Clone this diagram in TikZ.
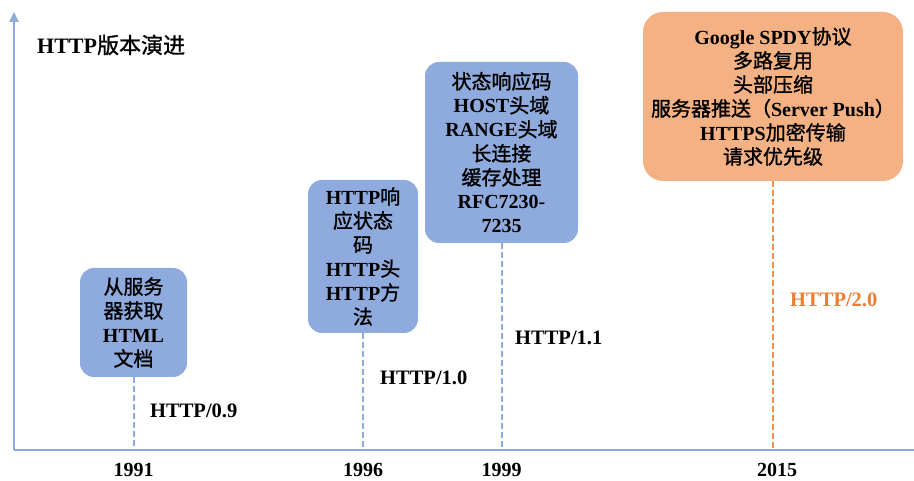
\documentclass[tikz,border=0pt]{standalone}
\usepackage{fontspec}
\setmainfont{Liberation Serif}
% CJK face, slightly emboldened to sit between regular and bold
\newfontfamily\cjk{Noto Sans CJK SC}[FakeBold=1.2]
\newcommand{\zh}[1]{{\cjk\mdseries #1}}
\usetikzlibrary{arrows.meta}
\definecolor{axisblue}{HTML}{8FAADC}
\definecolor{boxblue}{HTML}{8FAADC}
\definecolor{boxorange}{HTML}{F4B183}
\definecolor{verorange}{HTML}{ED7D31}

\begin{document}
\begin{tikzpicture}[x=1pt,y=1pt,
  axisline/.style={draw=axisblue, line width=2.4pt},
  featbox/.style={rounded corners=14pt, align=center, inner sep=0pt,
    font=\bfseries\fontsize{20}{24}\selectfont, text=black},
  bluebox/.style={featbox, fill=boxblue},
  orangebox/.style={featbox, fill=boxorange, rounded corners=20pt},
  bluedash/.style={draw=boxblue, line width=2pt, dash pattern=on 6pt off 3pt},
  orangedash/.style={draw=verorange!85, line width=2pt, dash pattern=on 6pt off 3pt},
  verlabel/.style={anchor=west, font=\bfseries\fontsize{20.5}{24}\selectfont, inner sep=0pt},
  yearlabel/.style={font=\bfseries\fontsize{20}{24}\selectfont, inner sep=0pt}
]
\useasboundingbox (0,0) rectangle (914,481);

% axes
\coordinate (o) at (14,31);
\coordinate (ytop) at (14,469);
\coordinate (xend) at (914,31);
\draw[axisline, -{Triangle[length=10pt,width=9pt]}] (o) -- (ytop);
\draw[axisline] (o) -- (xend);

% title
\node[anchor=west, inner sep=0pt, font=\bfseries\fontsize{22}{26}\selectfont] (title) at (37,436) {HTTP\zh{版本演进}};

% feature boxes
\node[bluebox, minimum width=107pt, minimum height=109pt] (b91) at (133.5,158.5)
  {\zh{从服务}\\\zh{器获取}\\HTML\\\zh{文档}};
\node[bluebox, minimum width=110pt, minimum height=153pt] (b96) at (363,224.5)
  {HTTP\zh{响}\\\zh{应状态}\\\zh{码}\\HTTP\zh{头}\\HTTP\zh{方}\\\zh{法}};
\node[bluebox, minimum width=153pt, minimum height=181pt] (b99) at (501.5,328.5)
  {\zh{状态响应码}\\HOST\zh{头域}\\RANGE\zh{头域}\\\zh{长连接}\\\zh{缓存处理}\\RFC7230-\\7235};
\node[orangebox, minimum width=260pt, minimum height=169pt] (b15) at (773,384.5)
  {Google SPDY\zh{协议}\\\zh{多路复用}\\\zh{头部压缩}\\\zh{服务器推送（}Server Push\zh{）}\\HTTPS\zh{加密传输}\\\zh{请求优先级}};

% dashed drop lines to the time axis
\draw[bluedash] (b91.south) -- (b91.south |- o);
\draw[bluedash] (b96.south) -- (b96.south |- o);
\draw[bluedash] (b99.south) -- (b99.south |- o);
\draw[orangedash] (b15.south) -- (b15.south |- o);

% version labels
\node[verlabel] (v09) at (150,70) {HTTP/0.9};
\node[verlabel] (v10) at (380,103) {HTTP/1.0};
\node[verlabel] (v11) at (515,143) {HTTP/1.1};
\node[verlabel, text=verorange] (v20) at (790,181) {HTTP/2.0};

% years
\node[yearlabel] (y91) at (133.5,11) {1991};
\node[yearlabel] (y96) at (363,11) {1996};
\node[yearlabel] (y99) at (501.5,11) {1999};
\node[yearlabel] (y15) at (777,11) {2015};
\end{tikzpicture}
\end{document}
